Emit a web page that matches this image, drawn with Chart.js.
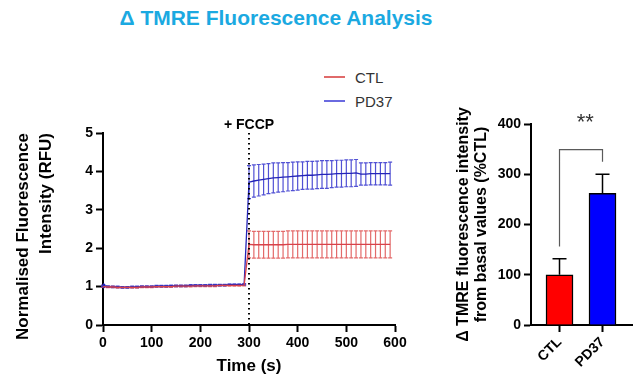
<!DOCTYPE html>
<html>
<head>
<meta charset="utf-8">
<script src="https://cdn.jsdelivr.net/npm/chart.js@4.4.1/dist/chart.umd.min.js"></script>
<style>
  body { margin: 0; width: 638px; height: 386px; background: #fff; position: relative; overflow: hidden;
         font-family: "Liberation Sans", Arial, sans-serif; }
  #title { position: absolute; left: 0; top: 5px; width: 552px; text-align: center; line-height: 26px;
           font-weight: bold; font-size: 21px; color: #1ba9e1; }
  #legend { position: absolute; left: 324px; top: 65px; }
  .row { height: 24px; display: flex; align-items: center; font-size: 15px; color: #333; }
  .swatch { width: 21px; height: 1.5px; margin-right: 10px; }
  #timeWrap { position: absolute; left: 0; top: 110px; width: 410px; height: 276px; }
  #barWrap { position: absolute; left: 440px; top: 90px; width: 198px; height: 296px; }
</style>
</head>
<body>
<div id="title">Δ TMRE Fluorescence Analysis</div>
<div id="legend">
  <div class="row"><span class="swatch" style="background:#e06a6a"></span>CTL</div>
  <div class="row"><span class="swatch" style="background:#6a6ae0"></span>PD37</div>
</div>
<div id="timeWrap"><canvas id="timeChart"></canvas></div>
<div id="barWrap"><canvas id="barChart"></canvas></div>
<script>
// time course (s), mean and SEM per group
const times = [0, 10, 20, 30, 40, 50, 60, 70, 80, 90, 100, 110, 120, 130, 140, 150, 160, 170, 180, 190,
               200, 210, 220, 230, 240, 250, 260, 270, 280, 290, 300, 310, 320, 330, 340, 350, 360, 370, 380, 390,
               400, 410, 420, 430, 440, 450, 460, 470, 480, 490, 500, 510, 520, 530, 540, 550, 560, 570, 580, 590];
const ctlMean = [1.00, 0.99, 0.99, 0.98, 0.98, 0.98, 0.98, 0.98, 0.99, 0.99, 0.99, 1.00, 1.00, 1.00, 1.00,
                 1.01, 1.01, 1.01, 1.01, 1.02, 1.02, 1.02, 1.02, 1.02, 1.03, 1.03, 1.03, 1.03, 1.03, 1.04,
                 2.10, 2.09, 2.09, 2.09, 2.09, 2.09, 2.09, 2.09, 2.10, 2.10, 2.10, 2.10, 2.10, 2.10, 2.10,
                 2.10, 2.10, 2.10, 2.10, 2.10, 2.10, 2.10, 2.10, 2.10, 2.10, 2.10, 2.10, 2.10, 2.10, 2.10];
const ctlErr = [0.02, 0.02, 0.02, 0.02, 0.02, 0.02, 0.02, 0.02, 0.02, 0.02, 0.02, 0.02, 0.02, 0.02, 0.02,
                0.02, 0.02, 0.02, 0.02, 0.02, 0.02, 0.02, 0.02, 0.02, 0.02, 0.02, 0.02, 0.02, 0.02, 0.02,
                0.35, 0.35, 0.35, 0.35, 0.35, 0.35, 0.35, 0.35, 0.35, 0.35, 0.35, 0.35, 0.35, 0.35, 0.35,
                0.35, 0.35, 0.35, 0.35, 0.35, 0.35, 0.35, 0.35, 0.35, 0.35, 0.35, 0.35, 0.35, 0.35, 0.35];
const pd37Mean = [1.02, 1.00, 0.99, 0.99, 0.98, 0.98, 0.99, 0.99, 1.00, 1.00, 1.00, 1.01, 1.01, 1.01, 1.02,
                  1.02, 1.02, 1.02, 1.03, 1.03, 1.03, 1.03, 1.04, 1.04, 1.04, 1.04, 1.05, 1.05, 1.05, 1.06,
                  3.72, 3.75, 3.77, 3.79, 3.81, 3.83, 3.84, 3.85, 3.86, 3.87, 3.88, 3.89, 3.90, 3.90, 3.91,
                  3.92, 3.92, 3.93, 3.94, 3.94, 3.95, 3.95, 3.96, 3.93, 3.93, 3.94, 3.94, 3.94, 3.94, 3.94];
const pd37Err = [0.02, 0.02, 0.02, 0.02, 0.02, 0.02, 0.02, 0.02, 0.02, 0.02, 0.02, 0.02, 0.02, 0.02, 0.02,
                 0.02, 0.02, 0.02, 0.02, 0.02, 0.02, 0.02, 0.02, 0.02, 0.02, 0.02, 0.02, 0.02, 0.02, 0.02,
                 0.43, 0.42, 0.41, 0.40, 0.39, 0.39, 0.38, 0.38, 0.37, 0.37, 0.37, 0.36, 0.36, 0.36, 0.36,
                 0.36, 0.36, 0.35, 0.35, 0.35, 0.35, 0.35, 0.35, 0.29, 0.29, 0.29, 0.29, 0.29, 0.29, 0.30];
const fccpTime = 300;

// bar summary
const barLabels = ['CTL', 'PD37'];
const barValues = [100, 262];
const barErrors = [32, 38];
const sigLevel = 349;      // bracket height
const sigLegs = [156, 325]; // bottom of each bracket leg
const sigText = '**';

Chart.defaults.font.family = '"Liberation Sans", Arial, sans-serif';
Chart.defaults.color = '#000';

const boldTick = { size: 14, weight: 'bold' };

// draws the mean +/- error whiskers from dataset.errors
const errorBars = {
    id: 'errorBars',
    beforeDatasetsDraw(chart) {
        const { ctx, scales: { x, y } } = chart;
        chart.data.datasets.forEach((ds) => {
            if (!ds.errors) return;
            ctx.save();
            ctx.strokeStyle = ds.errorColor;
            ctx.lineWidth = 1.2;
            ds.data.forEach((pt, j) => {
                const px = x.getPixelForValue(pt.x);
                const top = y.getPixelForValue(pt.y + ds.errors[j]);
                const bot = y.getPixelForValue(pt.y - ds.errors[j]);
                ctx.beginPath();
                ctx.moveTo(px, top); ctx.lineTo(px, bot);
                ctx.moveTo(px - 2, top); ctx.lineTo(px + 2, top);
                ctx.moveTo(px - 2, bot); ctx.lineTo(px + 2, bot);
                ctx.stroke();
            });
            ctx.restore();
        });
    }
};

// dotted marker for FCCP addition
const fccpLine = {
    id: 'fccpLine',
    afterDatasetsDraw(chart) {
        const { ctx, chartArea, scales: { x } } = chart;
        const px = x.getPixelForValue(fccpTime);
        ctx.save();
        ctx.strokeStyle = '#000';
        ctx.lineWidth = 2;
        ctx.setLineDash([1.6, 3.4]);
        ctx.beginPath();
        ctx.moveTo(px, chartArea.top);
        ctx.lineTo(px, chartArea.bottom);
        ctx.stroke();
        ctx.setLineDash([]);
        ctx.fillStyle = '#000';
        ctx.font = 'bold 14px "Liberation Sans", Arial, sans-serif';
        ctx.textAlign = 'center';
        ctx.textBaseline = 'middle';
        ctx.fillText('+ FCCP', px, chartArea.top - 8);
        ctx.restore();
    }
};

new Chart(document.getElementById('timeChart'), {
    type: 'line',
    data: {
        datasets: [
            {
                label: 'CTL',
                data: times.map((t, i) => ({ x: t, y: ctlMean[i] })),
                errors: ctlErr,
                errorColor: 'rgba(222, 80, 80, 0.85)',
                borderColor: '#d8424a',
                borderWidth: 1.3,
                pointRadius: 0,
                tension: 0
            },
            {
                label: 'PD37',
                data: times.map((t, i) => ({ x: t, y: pd37Mean[i] })),
                errors: pd37Err,
                errorColor: 'rgba(50, 50, 205, 0.85)',
                borderColor: '#2424b8',
                backgroundColor: '#2424b8',
                borderWidth: 1.3,
                pointRadius: (c) => c.dataIndex === 0 ? 2 : 0,
                tension: 0
            }
        ]
    },
    options: {
        responsive: true,
        maintainAspectRatio: false,
        animation: false,
        layout: { padding: { top: 23, right: 15, left: 0, bottom: 0 } },
        plugins: { legend: { display: false }, tooltip: { enabled: false } },
        scales: {
            x: {
                type: 'linear',
                min: 0,
                max: 600,
                border: { color: '#000', width: 2 },
                grid: { drawOnChartArea: false, tickLength: 7, tickWidth: 2, tickColor: '#000' },
                ticks: { stepSize: 100, maxRotation: 0, font: boldTick, padding: 3 },
                title: { display: true, text: 'Time (s)', font: { size: 17, weight: 'bold' }, padding: { top: 0, bottom: 9 } },
                afterFit: (s) => { s.height = 61; }
            },
            y: {
                min: 0,
                max: 5,
                border: { color: '#000', width: 2 },
                grid: { drawOnChartArea: false, tickLength: 7, tickWidth: 2, tickColor: '#000' },
                ticks: { stepSize: 1, font: boldTick, padding: 3 },
                title: {
                    display: true,
                    text: ['Normalised Fluorescence', 'Intensity (RFU)'],
                    align: 'end',
                    font: { size: 17, weight: 'bold', lineHeight: 1.35 },
                    padding: { top: 12, bottom: 0 }
                },
                afterFit: (s) => { s.width = 103; }
            }
        }
    },
    plugins: [errorBars, fccpLine]
});

// upper whiskers and significance bracket for the bar chart
const barExtras = {
    id: 'barExtras',
    afterDatasetsDraw(chart) {
        const { ctx, scales: { x, y } } = chart;
        ctx.save();
        ctx.strokeStyle = '#000';
        ctx.lineWidth = 1.5;
        barValues.forEach((v, i) => {
            const px = x.getPixelForValue(i);
            const top = y.getPixelForValue(v + barErrors[i]);
            ctx.beginPath();
            ctx.moveTo(px, y.getPixelForValue(v));
            ctx.lineTo(px, top);
            ctx.moveTo(px - 7, top);
            ctx.lineTo(px + 7, top);
            ctx.stroke();
        });
        const x0 = x.getPixelForValue(0);
        const x1 = x.getPixelForValue(1);
        const yb = y.getPixelForValue(sigLevel);
        ctx.strokeStyle = '#5a5a5a';
        ctx.lineWidth = 1.2;
        ctx.beginPath();
        ctx.moveTo(x0, y.getPixelForValue(sigLegs[0]));
        ctx.lineTo(x0, yb);
        ctx.lineTo(x1, yb);
        ctx.lineTo(x1, y.getPixelForValue(sigLegs[1]));
        ctx.stroke();
        ctx.fillStyle = '#333';
        ctx.font = '22px "Liberation Sans", Arial, sans-serif';
        ctx.textAlign = 'center';
        ctx.textBaseline = 'alphabetic';
        ctx.fillText(sigText, x.getPixelForValue(0.6), y.getPixelForValue(390));
        ctx.restore();
    }
};

new Chart(document.getElementById('barChart'), {
    type: 'bar',
    data: {
        datasets: [{
            data: barValues.map((v, i) => ({ x: i, y: v })),
            backgroundColor: ['#ff0000', '#0000ff'],
            borderColor: '#000',
            borderWidth: 1.5,
            barThickness: 27
        }]
    },
    options: {
        responsive: true,
        maintainAspectRatio: false,
        animation: false,
        layout: { padding: { top: 34, right: 6, left: 0, bottom: 0 } },
        plugins: { legend: { display: false }, tooltip: { enabled: false } },
        scales: {
            x: {
                type: 'linear',
                min: -0.663,
                max: 1.686,
                offset: false,
                afterBuildTicks: (s) => { s.ticks = barLabels.map((l, i) => ({ value: i })); },
                border: { color: '#000', width: 2 },
                grid: { offset: false, drawOnChartArea: false, tickLength: 7, tickWidth: 2, tickColor: '#000' },
                ticks: {
                    callback: (v) => barLabels[v],
                    minRotation: 45,
                    maxRotation: 45,
                    font: boldTick,
                    padding: 2
                },
                afterFit: (s) => { s.height = 61; }
            },
            y: {
                min: 0,
                max: 400,
                border: { color: '#000', width: 2 },
                grid: { drawOnChartArea: false, tickLength: 7, tickWidth: 2, tickColor: '#000' },
                ticks: { stepSize: 100, font: boldTick, padding: 3 },
                title: {
                    display: true,
                    text: ['Δ TMRE fluorescence intensity', 'from basal values (%CTL)'],
                    font: { size: 16, weight: 'bold', lineHeight: 1.15 },
                    padding: { top: 14, bottom: 0 }
                },
                afterFit: (s) => { s.width = 91; }
            }
        }
    },
    plugins: [barExtras]
});
</script>
</body>
</html>
